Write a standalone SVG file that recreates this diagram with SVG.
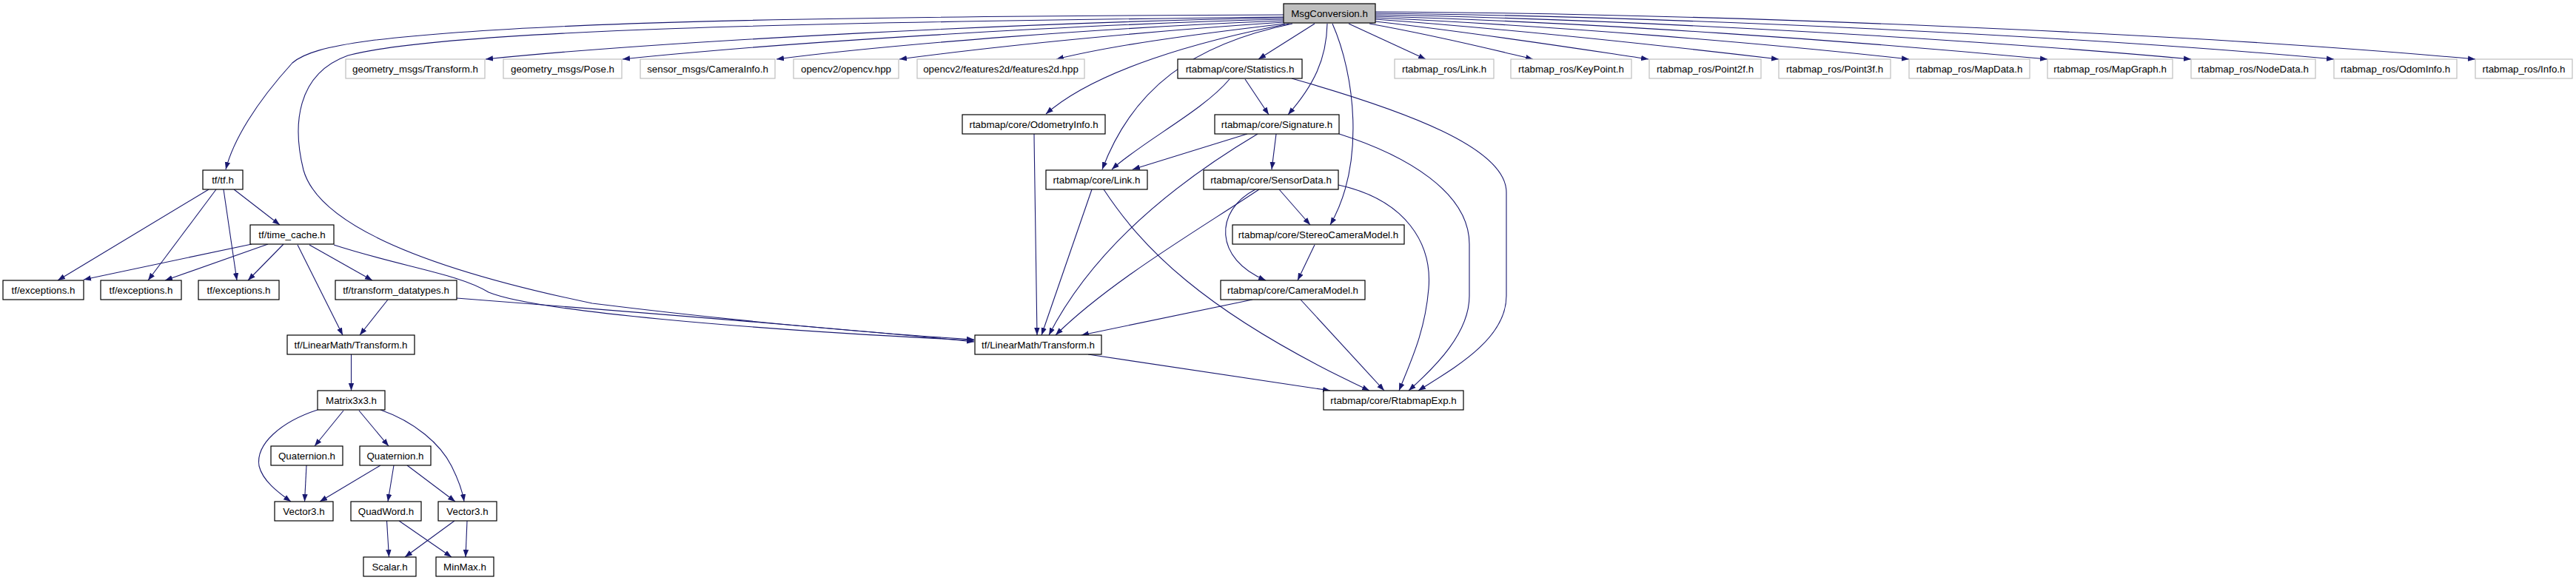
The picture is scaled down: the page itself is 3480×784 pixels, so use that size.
<svg xmlns="http://www.w3.org/2000/svg" width="3480" height="784" viewBox="0 0 3480 784">
<defs>
<marker id="a" markerWidth="11" markerHeight="9" refX="10" refY="4" orient="auto" markerUnits="userSpaceOnUse"><path d="M0,0.3 L10,4 L0,7.7 z" fill="#191970"/></marker>
<style>
text{font-family:"Liberation Sans",Arial,Helvetica,sans-serif;font-size:13.33px;text-anchor:middle;fill:#000}
.n rect{fill:#fff;stroke:#000;stroke-width:1.2}
.x rect{fill:#fff;stroke:#bfbfbf;stroke-width:1.2}
.r rect{fill:#bfbfbf;stroke:#000;stroke-width:1.2}
#edges path{fill:none;stroke:#191970;stroke-width:1.1;marker-end:url(#a)}
</style>
</defs>
<rect width="3480" height="784" fill="#fff"/>
<g id="edges">
<path d="M1734,20 C1100,22 700,30 500,55 C440,63 410,72 395,85 C345,140 315,190 305,229"/>
<path d="M1734,23 C1100,30 600,40 470,75 C400,100 395,170 410,230 C430,300 560,360 800,410 C1000,435 1200,452 1316,459"/>
<path d="M1734,24 C1400,30 900,55 656,80"/>
<path d="M1734,26 C1450,33 1050,58 841,80"/>
<path d="M1734,28 C1500,37 1200,60 1049,80"/>
<path d="M1734,30 C1550,42 1350,62 1215,80"/>
<path d="M1736,32 C1600,48 1500,62 1427,80"/>
<path d="M1742,32 C1620,55 1480,95 1413,154"/>
<path d="M1746,32 C1610,60 1530,120 1489,229"/>
<path d="M1776,32 L1700,80"/>
<path d="M1793,32 C1792,80 1775,115 1740,155"/>
<path d="M1800,32 C1830,100 1845,220 1797,304"/>
<path d="M1822,32 L1926,80"/>
<path d="M1850,32 C1950,50 2020,68 2071,80"/>
<path d="M1858,29 C2000,45 2120,64 2227,80"/>
<path d="M1858,26 C2050,40 2250,62 2403,80"/>
<path d="M1858,24 C2100,35 2380,58 2579,80"/>
<path d="M1858,22 C2150,30 2500,55 2766,80"/>
<path d="M1858,20 C2200,26 2650,52 2960,80"/>
<path d="M1858,18 C2250,22 2800,48 3153,80"/>
<path d="M1858,16 C2300,18 2950,44 3344,80"/>
<path d="M1661,107 C1625,150 1545,190 1502,229"/>
<path d="M1682,107 L1714,155"/>
<path d="M1745,106 C1900,150 2035,200 2035,260 L2035,400 C2035,460 1960,500 1916,528"/>
<path d="M1397,181 C1398,280 1400,380 1401,453"/>
<path d="M1685,181 L1530,229"/>
<path d="M1699,181 C1600,240 1480,330 1417,453"/>
<path d="M1724,181 L1718,229"/>
<path d="M1809,181 C1900,210 1985,260 1985,330 L1985,400 C1985,450 1940,495 1903,528"/>
<path d="M1475,256 L1407,453"/>
<path d="M1491,256 C1540,330 1620,420 1850,528"/>
<path d="M1701,256 C1620,310 1500,380 1426,453"/>
<path d="M1696,256 C1640,285 1640,350 1710,379"/>
<path d="M1728,256 L1770,304"/>
<path d="M1808,250 C1900,270 1935,330 1930,390 C1925,450 1905,490 1890,528"/>
<path d="M1776,331 L1753,379"/>
<path d="M1692,405 L1461,453"/>
<path d="M1757,405 L1870,528"/>
<path d="M1470,479 L1797,528"/>
<path d="M282,256 L78,379"/>
<path d="M292,256 L200,379"/>
<path d="M302,256 L320,379"/>
<path d="M316,256 L378,304"/>
<path d="M340,330 L113,378"/>
<path d="M362,330 L223,379"/>
<path d="M383,330 L335,379"/>
<path d="M402,331 L463,453"/>
<path d="M418,331 L503,379"/>
<path d="M451,331 C540,360 620,370 660,395 C720,420 1000,445 1316,460"/>
<path d="M524,405 L486,453"/>
<path d="M617,403 C900,425 1150,445 1316,462"/>
<path d="M474.5,479 L474.5,528"/>
<path d="M464,555 L425,603"/>
<path d="M485,555 L525,603"/>
<path d="M429,554 C380,570 345,600 350,630 C355,650 375,665 393,678"/>
<path d="M514,554 C560,570 595,600 610,630 C620,650 625,665 627,678"/>
<path d="M414,629 L411.5,678"/>
<path d="M514,629 L432,678"/>
<path d="M532,629 L524,678"/>
<path d="M550,629 L615,678"/>
<path d="M522.5,704 L525.5,753"/>
<path d="M539,704 L610,753"/>
<path d="M614,704 L547,753"/>
<path d="M631,704 L629,753"/>
</g>
<g id="n0" class="r"><rect x="1734" y="5" width="124" height="26"/><text x="1796" y="22.5">MsgConversion.h</text></g>
<g id="n1" class="x"><rect x="467" y="80" width="188" height="26"/><text x="561" y="97.5">geometry_msgs/Transform.h</text></g>
<g id="n2" class="x"><rect x="680" y="80" width="160" height="26"/><text x="760" y="97.5">geometry_msgs/Pose.h</text></g>
<g id="n3" class="x"><rect x="865" y="80" width="182" height="26"/><text x="956" y="97.5">sensor_msgs/CameraInfo.h</text></g>
<g id="n4" class="x"><rect x="1072" y="80" width="142" height="26"/><text x="1143" y="97.5">opencv2/opencv.hpp</text></g>
<g id="n5" class="x"><rect x="1239" y="80" width="226" height="26"/><text x="1352" y="97.5">opencv2/features2d/features2d.hpp</text></g>
<g id="n6" class="n"><rect x="1591" y="80" width="168" height="26"/><text x="1675" y="97.5">rtabmap/core/Statistics.h</text></g>
<g id="n7" class="x"><rect x="1884" y="80" width="134" height="26"/><text x="1951" y="97.5">rtabmap_ros/Link.h</text></g>
<g id="n8" class="x"><rect x="2041" y="80" width="163" height="26"/><text x="2122.5" y="97.5">rtabmap_ros/KeyPoint.h</text></g>
<g id="n9" class="x"><rect x="2228" y="80" width="151" height="26"/><text x="2303.5" y="97.5">rtabmap_ros/Point2f.h</text></g>
<g id="n10" class="x"><rect x="2403" y="80" width="151" height="26"/><text x="2478.5" y="97.5">rtabmap_ros/Point3f.h</text></g>
<g id="n11" class="x"><rect x="2579" y="80" width="163" height="26"/><text x="2660.5" y="97.5">rtabmap_ros/MapData.h</text></g>
<g id="n12" class="x"><rect x="2766" y="80" width="169" height="26"/><text x="2850.5" y="97.5">rtabmap_ros/MapGraph.h</text></g>
<g id="n13" class="x"><rect x="2960" y="80" width="168" height="26"/><text x="3044" y="97.5">rtabmap_ros/NodeData.h</text></g>
<g id="n14" class="x"><rect x="3153" y="80" width="166" height="26"/><text x="3236" y="97.5">rtabmap_ros/OdomInfo.h</text></g>
<g id="n15" class="x"><rect x="3344" y="80" width="131" height="26"/><text x="3409.5" y="97.5">rtabmap_ros/Info.h</text></g>
<g id="n16" class="n"><rect x="1300" y="155" width="193" height="26"/><text x="1396.5" y="172.5">rtabmap/core/OdometryInfo.h</text></g>
<g id="n17" class="n"><rect x="1641" y="155" width="168" height="26"/><text x="1725" y="172.5">rtabmap/core/Signature.h</text></g>
<g id="n18" class="n"><rect x="274" y="230" width="54" height="26"/><text x="301" y="247.5">tf/tf.h</text></g>
<g id="n19" class="n"><rect x="1413" y="230" width="137" height="26"/><text x="1481.5" y="247.5">rtabmap/core/Link.h</text></g>
<g id="n20" class="n"><rect x="1626" y="230" width="182" height="26"/><text x="1717" y="247.5">rtabmap/core/SensorData.h</text></g>
<g id="n21" class="n"><rect x="338" y="304" width="113" height="26"/><text x="394.5" y="321.5">tf/time_cache.h</text></g>
<g id="n22" class="n"><rect x="1665" y="304" width="232" height="26"/><text x="1781" y="321.5">rtabmap/core/StereoCameraModel.h</text></g>
<g id="n23" class="n"><rect x="4" y="379" width="109" height="26"/><text x="58.5" y="396.5">tf/exceptions.h</text></g>
<g id="n24" class="n"><rect x="136" y="379" width="109" height="26"/><text x="190.5" y="396.5">tf/exceptions.h</text></g>
<g id="n25" class="n"><rect x="268" y="379" width="109" height="26"/><text x="322.5" y="396.5">tf/exceptions.h</text></g>
<g id="n26" class="n"><rect x="453" y="379" width="164" height="26"/><text x="535" y="396.5">tf/transform_datatypes.h</text></g>
<g id="n27" class="n"><rect x="1649" y="379" width="195" height="26"/><text x="1746.5" y="396.5">rtabmap/core/CameraModel.h</text></g>
<g id="n28" class="n"><rect x="388" y="453" width="172" height="26"/><text x="474" y="470.5">tf/LinearMath/Transform.h</text></g>
<g id="n29" class="n"><rect x="1317" y="453" width="171" height="26"/><text x="1402.5" y="470.5">tf/LinearMath/Transform.h</text></g>
<g id="n30" class="n"><rect x="429" y="528" width="91" height="26"/><text x="474.5" y="545.5">Matrix3x3.h</text></g>
<g id="n31" class="n"><rect x="1788" y="528" width="189" height="26"/><text x="1882.5" y="545.5">rtabmap/core/RtabmapExp.h</text></g>
<g id="n32" class="n"><rect x="366" y="603" width="97" height="26"/><text x="414.5" y="620.5">Quaternion.h</text></g>
<g id="n33" class="n"><rect x="486" y="603" width="96" height="26"/><text x="534" y="620.5">Quaternion.h</text></g>
<g id="n34" class="n"><rect x="371" y="678" width="79" height="26"/><text x="410.5" y="695.5">Vector3.h</text></g>
<g id="n35" class="n"><rect x="474" y="678" width="95" height="26"/><text x="521.5" y="695.5">QuadWord.h</text></g>
<g id="n36" class="n"><rect x="592" y="678" width="79" height="26"/><text x="631.5" y="695.5">Vector3.h</text></g>
<g id="n37" class="n"><rect x="491" y="753" width="71" height="26"/><text x="526.5" y="770.5">Scalar.h</text></g>
<g id="n38" class="n"><rect x="589" y="753" width="78" height="26"/><text x="628" y="770.5">MinMax.h</text></g>
</svg>
